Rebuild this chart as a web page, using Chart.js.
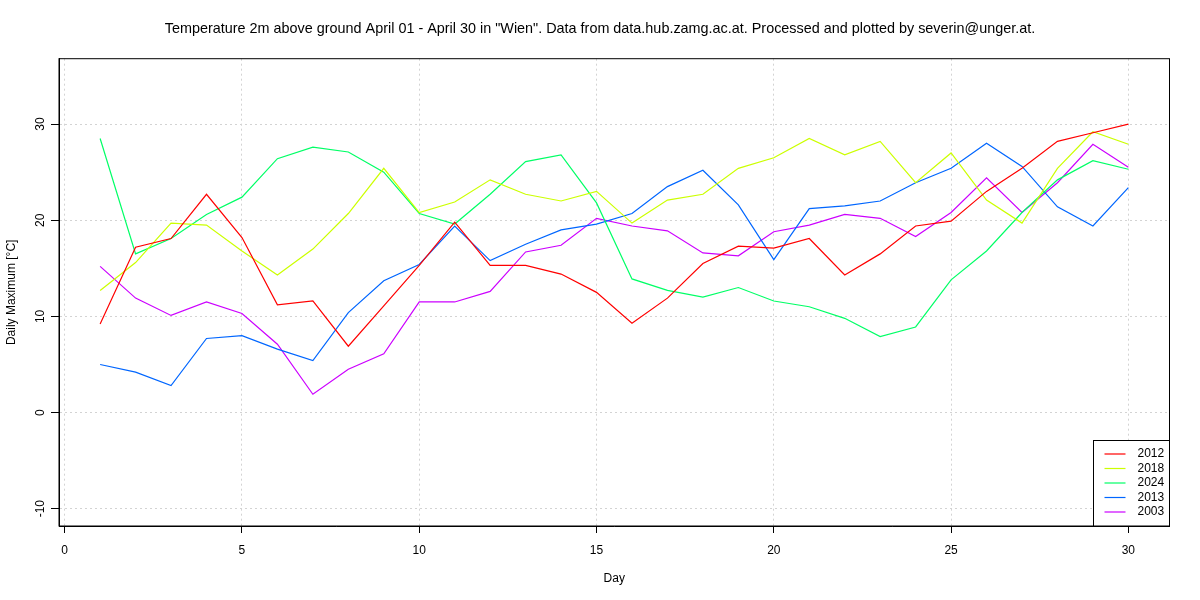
<!DOCTYPE html>
<html>
<head>
<meta charset="utf-8">
<script src="https://cdn.jsdelivr.net/npm/chart.js@4/dist/chart.umd.min.js"></script>
<style>
  html, body { margin: 0; padding: 0; background: #fff; }
  #wrap { width: 1200px; height: 600px; }
</style>
</head>
<body>
<div id="wrap"><canvas id="c" width="1200" height="600"></canvas></div>
<script>
// data
const days = [1, 2, 3, 4, 5, 6, 7, 8, 9, 10, 11, 12, 13, 14, 15, 16, 17, 18, 19, 20, 21, 22, 23, 24, 25, 26, 27, 28, 29, 30];
const years = ["2012", "2018", "2024", "2013", "2003"];
const colors = ["#FF0000", "#CCFF00", "#00FF66", "#0066FF", "#CC00FF"];

const t2012 = [9.2, 17.2, 18.1, 22.7, 18.2, 11.2, 11.6, 6.9, 11.1, 15.3, 19.8, 15.3, 15.3, 14.4, 12.5, 9.3, 11.9, 15.5, 17.3, 17.1, 18.1, 14.3, 16.5, 19.4, 19.9, 23.0, 25.4, 28.2, 29.1, 30.0];
const t2018 = [12.7, 15.6, 19.7, 19.5, 16.8, 14.3, 17.0, 20.7, 25.4, 20.8, 21.9, 24.2, 22.7, 22.0, 23.0, 19.7, 22.1, 22.7, 25.4, 26.5, 28.5, 26.8, 28.2, 23.9, 27.0, 22.1, 19.7, 25.4, 29.2, 27.9];
const t2024 = [28.5, 16.5, 18.1, 20.6, 22.4, 26.4, 27.6, 27.1, 25.0, 20.7, 19.6, 22.7, 26.1, 26.8, 21.8, 13.9, 12.7, 12.0, 13.0, 11.6, 11.0, 9.8, 7.9, 8.9, 13.8, 16.8, 20.8, 24.2, 26.2, 25.3];
const t2013 = [5.0, 4.2, 2.8, 7.7, 8.0, 6.6, 5.4, 10.4, 13.7, 15.4, 19.4, 15.8, 17.5, 19.0, 19.6, 20.7, 23.5, 25.2, 21.6, 15.9, 21.2, 21.5, 22.0, 23.9, 25.4, 28.0, 25.6, 21.4, 19.4, 23.4];
const t2003 = [15.2, 11.9, 10.1, 11.5, 10.3, 7.1, 1.9, 4.5, 6.1, 11.5, 11.5, 12.6, 16.7, 17.4, 20.2, 19.4, 18.9, 16.6, 16.3, 18.8, 19.5, 20.6, 20.2, 18.3, 20.8, 24.4, 20.8, 23.9, 27.9, 25.5];
const series = [t2012, t2018, t2024, t2013, t2003];

const xTicks = [0, 5, 10, 15, 20, 25, 30];
const yTicks = [-10, 0, 10, 20, 30];

const TITLE = 'Temperature 2m above ground April 01 - April 30 in "Wien". Data from data.hub.zamg.ac.at. Processed and plotted by severin@unger.at.';
const FONT = "'Liberation Sans', Arial, Helvetica, sans-serif";
Chart.defaults.font.family = FONT;
Chart.defaults.color = "#000";

// title centred on the whole page, box around the plot (R style)
const frame = {
  id: "frame",
  afterDraw(chart) {
    const { ctx, chartArea: a, width } = chart;
    ctx.save();
    ctx.setLineDash([]);
    ctx.strokeStyle = "#000";
    ctx.lineWidth = 1;
    ctx.strokeRect(a.left, a.top, a.right - a.left, a.bottom - a.top);
    ctx.fillStyle = "#000";
    ctx.font = "14.4px " + FONT;
    ctx.textAlign = "center";
    ctx.textBaseline = "middle";
    ctx.fillText(TITLE, width / 2, 29.5);
    ctx.restore();
  }
};

// rotated y tick labels, like R's las=0
const yLabels = {
  id: "yLabels",
  afterDraw(chart) {
    const { ctx } = chart;
    const s = chart.scales.y;
    ctx.save();
    ctx.fillStyle = "#000";
    ctx.font = "12px " + FONT;
    ctx.textAlign = "center";
    ctx.textBaseline = "alphabetic";
    yTicks.forEach(v => {
      const py = s.getPixelForValue(v);
      ctx.save();
      ctx.translate(43.5, py);
      ctx.rotate(-Math.PI / 2);
      ctx.fillText(String(v), 0, 0);
      ctx.restore();
    });
    ctx.restore();
  }
};

// legend box in bottom right corner
const legendBox = {
  id: "legendBox",
  afterDraw(chart) {
    const { ctx, chartArea: a } = chart;
    const w = 76, h = 85.5;
    const x0 = a.right - w, y0 = a.bottom - h;
    ctx.save();
    ctx.setLineDash([]);
    ctx.fillStyle = "#fff";
    ctx.fillRect(x0, y0, w, h);
    ctx.strokeStyle = "#000";
    ctx.lineWidth = 1;
    ctx.strokeRect(x0, y0, w, h);
    ctx.font = "12px " + FONT;
    ctx.textBaseline = "middle";
    ctx.textAlign = "left";
    chart.data.datasets.forEach((ds, i) => {
      const ry = y0 + 13.5 + i * 14.5;
      ctx.strokeStyle = ds.borderColor;
      ctx.lineWidth = 1.2;
      ctx.beginPath();
      ctx.moveTo(x0 + 11, ry);
      ctx.lineTo(x0 + 32, ry);
      ctx.stroke();
      ctx.fillStyle = "#000";
      ctx.fillText(ds.label, x0 + 44, ry);
    });
    ctx.restore();
  }
};

const datasets = years.map((y, i) => ({
  label: y,
  data: days.map((d, j) => ({ x: d, y: series[i][j] })),
  borderColor: colors[i],
  backgroundColor: colors[i],
  borderWidth: 1.2,
  pointRadius: 0,
  tension: 0,
  fill: false
}));

new Chart(document.getElementById("c"), {
  type: "line",
  data: { datasets },
  options: {
    responsive: false,
    animation: false,
    layout: { padding: { top: 58.7, right: 30.5, left: 0, bottom: 0 } },
    plugins: {
      legend: { display: false },
      tooltip: { enabled: false },
      title: { display: false }
    },
    scales: {
      x: {
        type: "linear",
        min: -0.16,
        max: 31.16,
        afterBuildTicks: s => { s.ticks = xTicks.map(v => ({ value: v })); },
        afterFit: s => { s.height = 74; },
        ticks: { color: "#000", font: { size: 12 }, padding: 10, maxRotation: 0, autoSkip: false },
        grid: {
          color: "#d3d3d3",
          lineWidth: 1,
          drawTicks: true,
          tickLength: 7,
          tickColor: "#000",
          tickBorderDash: [],
          tickWidth: 1
        },
        border: { display: true, color: "#000", width: 1, dash: [2, 3] },
        title: { display: true, text: "Day", color: "#000", font: { size: 12 }, padding: { top: 0, bottom: 14.5 } }
      },
      y: {
        type: "linear",
        min: -11.8,
        max: 36.8,
        afterBuildTicks: s => { s.ticks = yTicks.map(v => ({ value: v })); },
        afterFit: s => { s.width = 59; },
        ticks: { display: false },
        grid: {
          color: "#d3d3d3",
          lineWidth: 1,
          drawTicks: true,
          tickLength: 8,
          tickColor: "#000",
          tickBorderDash: [],
          tickWidth: 1
        },
        border: { display: true, color: "#000", width: 1, dash: [2, 3] },
        title: { display: true, text: "Daily Maximum [°C]", color: "#000", font: { size: 12 }, padding: { top: 4.8, bottom: 0 } }
      }
    }
  },
  plugins: [frame, yLabels, legendBox]
});
</script>
</body>
</html>
